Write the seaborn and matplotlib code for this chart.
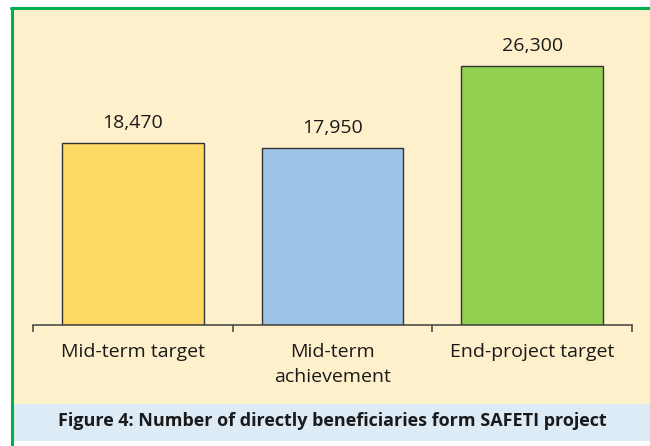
import matplotlib
matplotlib.use("Agg")
import matplotlib.pyplot as plt
import seaborn as sns
import pandas as pd
from matplotlib.patches import Rectangle
from matplotlib.lines import Line2D

categories = ["Mid-term target", "Mid-term\nachievement", "End-project target"]
values = [18470, 17950, 26300]
value_labels = ["18,470", "17,950", "26,300"]
bar_colors = ["#FFD966", "#9DC3E6", "#92D050"]
caption = "Figure 4: Number of directly beneficiaries form SAFETI project"

sns.set_theme(style="white")
plt.rcParams['font.family'] = ['Open Sans', 'DejaVu Sans']

W, H = 650, 446
fig = plt.figure(figsize=(W / 100, H / 100), dpi=100)
fig.patch.set_facecolor("white")

def fx(px):
    return px / W

def fy(py):
    return 1 - py / H

# beige panel
fig.patches.append(Rectangle((fx(12), fy(404)), fx(650) - fx(12), fy(8) - fy(404),
                             transform=fig.transFigure, facecolor="#FFF0CC", edgecolor="none", zorder=-5))
# caption band
fig.patches.append(Rectangle((fx(12), fy(441)), fx(650) - fx(12), fy(404) - fy(441),
                             transform=fig.transFigure, facecolor="#DDEBF7", edgecolor="none", zorder=-5))
# green border lines (left and top)
fig.lines.append(Line2D([fx(12), fx(12)], [fy(446), fy(7.5)], transform=fig.transFigure,
                        color="#00B050", lw=2.2, zorder=-4))
fig.lines.append(Line2D([fx(11), fx(650)], [fy(7.5), fy(7.5)], transform=fig.transFigure,
                        color="#00B050", lw=2.2, zorder=-4))

ax = fig.add_axes([fx(33), fy(325), fx(632) - fx(33), fy(29.5) - fy(325)])
ax.set_facecolor("none")
ax.set_zorder(2)

df = pd.DataFrame({"cat": categories, "val": values})
sns.barplot(data=df, x="cat", y="val", hue="cat", palette=bar_colors, legend=False,
            saturation=1, width=0.71, edgecolor="#333333", linewidth=1.0, ax=ax)

for i, (v, lab) in enumerate(zip(values, value_labels)):
    ax.text(i, v + 2000, lab, ha="center", va="center", fontsize=14, color="#1a1a1a")

ax.set_xlim(-0.5, 2.5)
ax.set_ylim(0, 30000)
ax.set_xlabel("")
ax.set_ylabel("")
ax.set_yticks([])
for s in ["top", "right", "left"]:
    ax.spines[s].set_visible(False)
ax.spines["bottom"].set_color("#404040")
ax.spines["bottom"].set_linewidth(1.1)

ax.set_xticks([0, 1, 2])
ax.set_xticklabels(categories, fontsize=14, color="#1a1a1a", linespacing=1.5)
ax.tick_params(axis="x", which="major", length=0, pad=13)
ax.set_xticks([-0.5, 0.5, 1.5, 2.5], minor=True)
ax.tick_params(axis="x", which="minor", length=5, width=1.1, color="#404040", direction="out", bottom=True)

fig.text(fx(332), fy(421), caption, ha="center", va="center", fontsize=13,
         fontweight="bold", color="#1a1a1a")

fig.savefig("out.png", dpi=100, facecolor=fig.get_facecolor())
